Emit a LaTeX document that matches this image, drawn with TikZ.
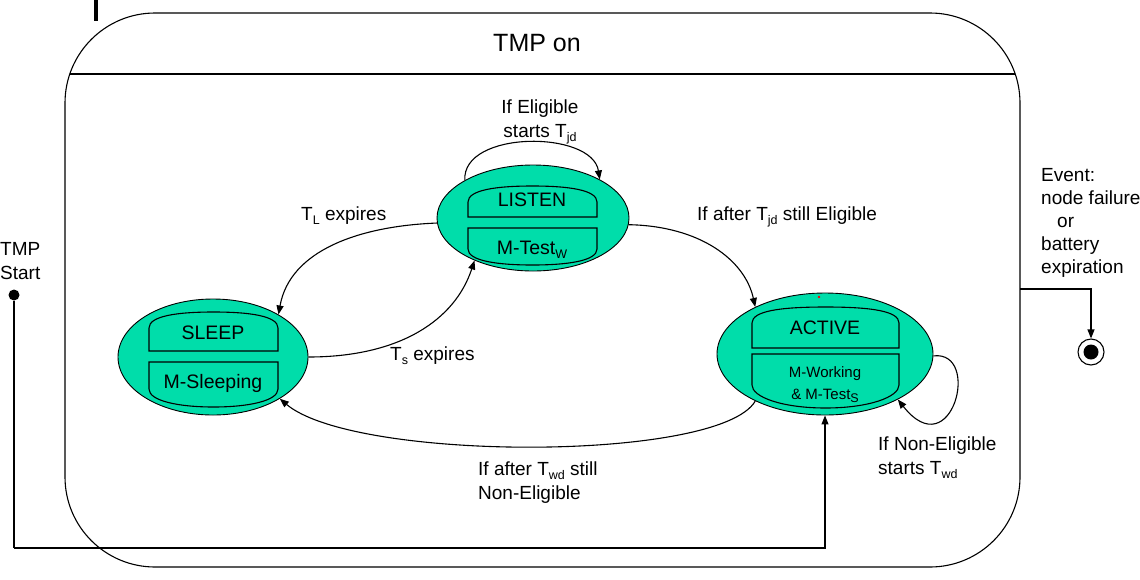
\documentclass[tikz,border=0pt]{standalone}
\usepackage{fontspec}
\setmainfont{Liberation Sans}
\usetikzlibrary{shapes.geometric,arrows.meta}
\definecolor{stgreen}{RGB}{0,221,170}
\newcommand\mysub[1]{\raisebox{-0.4ex}{\fontsize{12.5}{12}\selectfont #1}}
\newcommand\topcomp[4]{%
  \draw[comp] (#1,#4) -- (#1,#3+16) .. controls (#1,#3+4) and (#1+28,#3) .. ({(#1+#2)/2},#3)
    .. controls (#2-28,#3) and (#2,#3+4) .. (#2,#3+16) -- (#2,#4) -- cycle;}
\newcommand\botcomp[5]{%
  \draw[comp] (#1,#3) -- (#2,#3) -- (#2,#4) .. controls (#2,#4+12) and (#2-30,#5) .. ({(#1+#2)/2},#5)
    .. controls (#1+30,#5) and (#1,#4+12) .. (#1,#4) -- cycle;}
\tikzset{
  state/.style={ellipse, draw, fill=stgreen, line width=0.9pt, inner sep=0pt},
  comp/.style={draw, fill=stgreen, line width=1.1pt},
  trans/.style={line width=1.1pt, -{Triangle[length=9pt,width=7pt]}},
  plain/.style={line width=1.1pt},
  lbl/.style={font=\fontsize{19}{24}\selectfont, inner sep=0pt},
  clbl/.style={font=\fontsize{19.5}{24}\selectfont, inner sep=0pt},
  slbl/.style={font=\fontsize{15}{22}\selectfont, inner sep=0pt, align=center},
}
\begin{document}
\begin{tikzpicture}[x=1pt,y=-1pt]
\useasboundingbox (0,0) rectangle (1140,579);
% artefact bar
\fill (93.5,0) rectangle (98,21);
% outer composite state
\node[draw, line width=1.1pt, rounded corners=90pt, minimum width=955pt, minimum height=554pt, inner sep=0pt] (tmpon) at (542.5,290) {};
\begin{scope}
  \clip[rounded corners=90pt] (65,13) rectangle (1020,567);
  \draw[plain] (0,74) -- (1140,74);
\end{scope}
\node[font=\fontsize{25}{30}\selectfont, anchor=base, inner sep=0pt] (title) at (537,51) {TMP on};

% states
\node[state, minimum width=190pt, minimum height=116pt] (sleep) at (213,357) {};
\node[state, minimum width=192pt, minimum height=106pt] (listen) at (533,218) {};
\node[state, minimum width=216pt, minimum height=122pt] (active) at (825,354) {};
\fill[red] (819,297) circle (1.3);

% compartments
\topcomp{149}{278}{312}{351}
\botcomp{149}{278}{362}{389}{407}
\topcomp{468}{597}{186}{217}
\botcomp{468}{597}{228}{249}{265}
\topcomp{752}{899}{307}{348}
\botcomp{752}{899}{354}{385}{408}

\node[clbl] (sleepname) at (213,333) {SLEEP};
\node[clbl] (sleepact) at (213,383) {M-Sleeping};
\node[clbl] (listenname) at (532,200) {LISTEN};
\node[clbl] (listenact) at (532,250) {M-Test\mysub{W}};
\node[clbl] (activename) at (825,328) {ACTIVE};
\node[slbl] (activeact) at (825,385) {M-Working\\\& M-Test\mysub{S}};

% transitions
\draw[trans] (listen.151) .. controls (462,130) and (592,130) .. (listen.30);
\draw[trans] (listen.183) .. controls (360,226) and (290,250) .. (sleep.33);
\draw[trans] (sleep.0) .. controls (400,357) and (455,320) .. (listen.216);
\draw[trans] (listen.-4) .. controls (700,226) and (745,260) .. (active.146);
\draw[trans] (active.-1) .. controls (982,350) and (952,468) .. (active.-32);
\draw[trans] (active.214) .. controls (720,462) and (355,462) .. (sleep.-32);

% initial
\node[circle, fill, inner sep=0pt, minimum size=11pt] (startdot) at (14,295) {};
\coordinate (startcorner) at (14,548);
\draw[plain] (startdot) -- (startcorner);
\draw[trans] (startcorner) -| (active.south);

% final
\node[circle, draw, line width=1.1pt, minimum size=26pt, inner sep=0pt] (final) at (1091,352) {};
\node[circle, fill, minimum size=15pt, inner sep=0pt] (finaldot) at (final.center) {};
\coordinate (exitpt) at (1020,289);
\draw[trans] (exitpt) -| (final.north);

% labels
\node[lbl, align=center, anchor=base] (l1) at (540,137) {If Eligible\\starts T\mysub{jd}};
\node[lbl, anchor=base west] (l2) at (301,220) {T\mysub{L} expires};
\node[lbl, anchor=base west] (l3) at (390,360) {T\mysub{s} expires};
\node[lbl, anchor=base west] (l4) at (697,220) {If after T\mysub{jd} still Eligible};
\node[lbl, align=left, anchor=base west] (l5) at (878,474) {If Non-Eligible\\starts T\mysub{wd}};
\node[lbl, align=left, anchor=base west] (l6) at (478,499) {If after T\mysub{wd} still\\Non-Eligible};
\node[lbl, align=left, anchor=base west] (l7) at (0,279) {TMP\\Start};
\node[lbl, align=left, anchor=base west, font=\fontsize{19}{23}\selectfont] (l8) at (1041,273) {Event:\\node failure\\\hspace{16pt}or\\battery\\expiration};
\end{tikzpicture}
\end{document}
